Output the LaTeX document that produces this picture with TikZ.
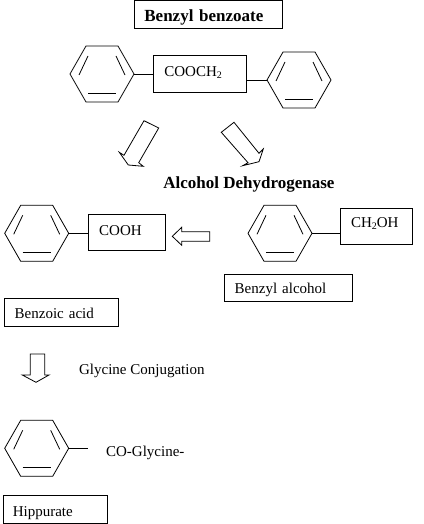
\documentclass[tikz,border=0pt]{standalone}
\usepackage{fontspec}
\setmainfont{Liberation Serif}
\tikzset{
  x=1pt,y=-1pt,
  every path/.append style={line width=0.8pt,line join=miter},
  box/.style n args={4}{draw,anchor=north west,inner xsep=#3,inner ysep=0pt,
    text width=#1-2*#3,text height=#4,text depth=#2-#4,align=left,font=\fontsize{15}{15}\selectfont},
  free/.style={anchor=base west,inner sep=0pt,font=\fontsize{15}{15}\selectfont},
  ring/.pic={
    \draw (-32,0)--(-16,-28)--(16,-28)--(32,0)--(16,28)--(-16,28)--cycle;
    \draw (-23,1)--(-14,-18);
    \draw (14,-18)--(23,1);
    \draw (-14,19)--(14,19);
    \coordinate (-r) at (32,0);
    \coordinate (-l) at (-32,0);
  },
}
\newcommand{\subtwo}{\raisebox{-2pt}{\fontsize{10}{10}\selectfont 2}}
\begin{document}
\begin{tikzpicture}
\useasboundingbox (0,0) rectangle (423,524);
% boxes
\node[box={148pt}{28pt}{10pt}{20.7pt},font=\fontsize{17}{17}\selectfont\bfseries] (title) at (134,0.5) {Benzyl benzoate};
\node[box={93pt}{37pt}{11pt}{21pt}] (cooch) at (153,55) {COOCH\subtwo};
\node[box={77pt}{36pt}{10.5pt}{20.7pt}] (cooh) at (88.3,214.3) {COOH};
\node[box={72pt}{36pt}{10.3pt}{19pt}] (choh) at (340.3,208.3) {CH\subtwo OH};
\node[box={128pt}{27pt}{10pt}{19pt}] (balc) at (224.3,274.3) {Benzyl alcohol};
\node[box={114pt}{28pt}{10pt}{19.4pt}] (bacid) at (4.3,298.3) {Benzoic acid};
\node[box={104pt}{28pt}{9.7pt}{20.7pt}] (hipp) at (2.7,495.3) {Hippurate};
% free texts
\node[free,font=\fontsize{17}{17}\selectfont\bfseries] (adh) at (163,188.3) {Alcohol Dehydrogenase};
\node[free] (gly) at (78.7,374.7) {Glycine Conjugation};
\node[free] (cogly) at (105.7,456.7) {CO-Glycine-};
% rings
\pic (r1) at (102,74) {ring};
\pic (r2) at (299,80) {ring};
\pic (r3) at (36.7,233.3) {ring};
\pic (r4) at (280,233.3) {ring};
\pic (r5) at (36.7,448.3) {ring};
% bonds
\draw (r1-r) -- (r1-r -| cooch.west);
\draw (r2-l) -- (r2-l -| cooch.east);
\draw (r3-r) -- (r3-r -| cooh.west);
\draw (r4-r) -- (r4-r -| choh.west);
\coordinate (r5end) at (88,448.3);
\draw (r5-r) -- (r5end);
% block arrows
\draw (144,120.7)--(158.7,128)--(138.7,162.7)--(143.3,166.3)--(128.3,165)--(119.3,152.3)--(124,155.3)--cycle;
\draw (221.3,132.3)--(234,122.3)--(259,153.3)--(263.3,149)--(259,161.7)--(242.7,165.7)--(248,162.7)--cycle;
\draw (172.3,236.3)--(181.7,227.3)--(181.7,231.7)--(209.7,231.7)--(209.7,241.3)--(181.7,241.3)--(181.7,245.3)--cycle;
\draw (30.3,354)--(44.7,354)--(44.7,375)--(49,375)--(36,382.3)--(22.3,375)--(30.3,375)--cycle;
\end{tikzpicture}
\end{document}
